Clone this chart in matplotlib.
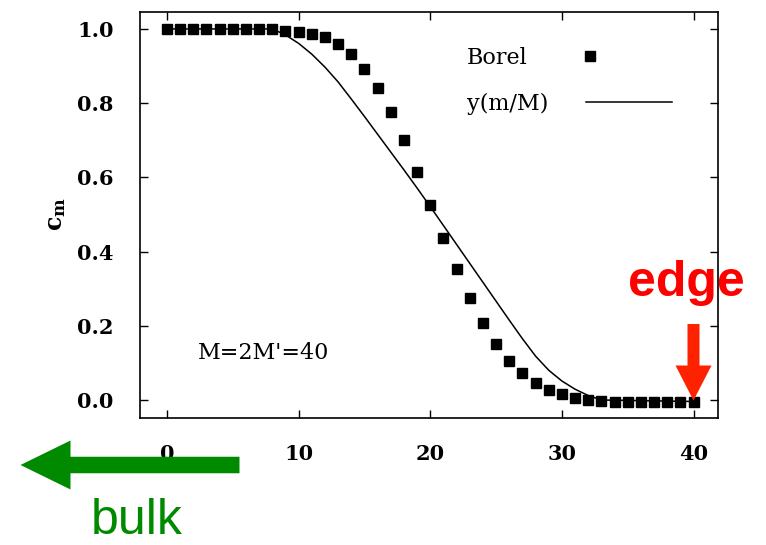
import matplotlib
matplotlib.use("Agg")
import matplotlib.pyplot as plt
from matplotlib.patches import FancyArrow
from matplotlib.lines import Line2D
from matplotlib.transforms import IdentityTransform

# ---- data ----
m_borel = list(range(0, 41))
c_borel = [1.0, 1.0, 1.0, 1.0, 1.0, 1.0, 1.0, 1.0, 1.0,
           0.995, 0.991, 0.987, 0.977, 0.959, 0.932, 0.892, 0.842, 0.775,
           0.700, 0.615, 0.526, 0.437, 0.352, 0.274, 0.208, 0.151, 0.106,
           0.072, 0.045, 0.027, 0.015, 0.006, 0.000, -0.003,
           -0.005, -0.005, -0.005, -0.005, -0.005, -0.005, -0.005]

m_curve = [0, 8, 9, 10, 11, 12, 13, 14, 15, 16, 17, 18, 19, 20, 21, 22, 23,
           24, 25, 26, 27, 28, 29, 30, 31, 32, 33, 40]
y_curve = [1.0, 1.0, 0.984, 0.961, 0.932, 0.897, 0.857, 0.811, 0.764, 0.716,
           0.668, 0.620, 0.571, 0.521, 0.470, 0.419, 0.368, 0.317, 0.266,
           0.215, 0.165, 0.118, 0.080, 0.051, 0.029, 0.012, 0.000, -0.004]

x_ticks = [0, 10, 20, 30, 40]
x_tick_labels = ["0", "10", "20", "30", "40"]
y_ticks = [0.0, 0.2, 0.4, 0.6, 0.8, 1.0]
y_tick_labels = ["0.0", "0.2", "0.4", "0.6", "0.8", "1.0"]

label_borel = "Borel"
label_curve = "y(m/M)"

# ---- figure ----
plt.rcParams['font.family'] = ['DejaVu Serif']
plt.rcParams['mathtext.fontset'] = 'dejavuserif'

W, H = 766, 545
fig = plt.figure(figsize=(W / 100, H / 100), dpi=100)
ax = fig.add_axes([140 / W, (H - 418) / H, 578 / W, 406.5 / H])

ax.plot(m_curve, y_curve, color='black', lw=1.1, zorder=2)
ax.plot(m_borel, c_borel, linestyle='none', marker='s', ms=7.2,
        color='black', zorder=3)

ax.set_xlim(-2.05, 41.85)
ax.set_ylim(-0.0485, 1.047)
ax.set_xticks(x_ticks)
ax.set_xticklabels(x_tick_labels, fontweight='bold')
ax.set_yticks(y_ticks)
ax.set_yticklabels(y_tick_labels, fontweight='bold')
ax.tick_params(direction='in', length=6, width=1.0, top=True, right=True,
               labelsize=15, pad=19)
for sp in ax.spines.values():
    sp.set_linewidth(1.2)

fig.text(57 / W, 1 - 214 / H, r'$\mathbf{c}_{\mathbf{m}}$', rotation=90,
         ha='center', va='center', fontsize=17)

# legends (text first, sample after)
h1 = Line2D([], [], linestyle='none', marker='s', ms=7.2, color='black')
leg1 = fig.legend([h1], [label_borel], loc='center left',
                  bbox_to_anchor=(467 / W, (H - 58) / H), frameon=False,
                  markerfirst=False, borderpad=0, borderaxespad=0,
                  handlelength=1.0, handletextpad=2.28, fontsize=16)
h2 = Line2D([], [], color='black', lw=1.1)
leg2 = fig.legend([h2], [label_curve], loc='center left',
                  bbox_to_anchor=(467 / W, (H - 104) / H), frameon=False,
                  markerfirst=False, borderpad=0, borderaxespad=0,
                  handlelength=3.9, handletextpad=1.68, fontsize=16)

fig.text(198 / W, 1 - 353 / H, "M=2M'=40", ha='left', va='center',
         fontsize=16)

# annotations: edge / bulk
fig.text(686 / W, 1 - 296 / H, "edge", color='#ff0000', fontsize=36,
         fontweight='bold', family='Liberation Sans', ha='center',
         va='baseline')
red = FancyArrow(693.5, H - 324, 0, -(400.5 - 324), width=12, head_width=36,
                 head_length=35, length_includes_head=True,
                 color='#ff2200', lw=0, transform=IdentityTransform())
fig.add_artist(red)

green = FancyArrow(239.5, H - 465, -(239.5 - 20.5), 0, width=16.5,
                   head_width=49, head_length=50, length_includes_head=True,
                   color='#008a00', lw=0, transform=IdentityTransform(),
                   zorder=5)
fig.add_artist(green)
fig.text(137 / W, 0.5 / H, "bulk", color='#008a00', fontsize=36,
         family='Liberation Sans', ha='center', va='bottom')

fig.savefig("out.png", dpi=100)
